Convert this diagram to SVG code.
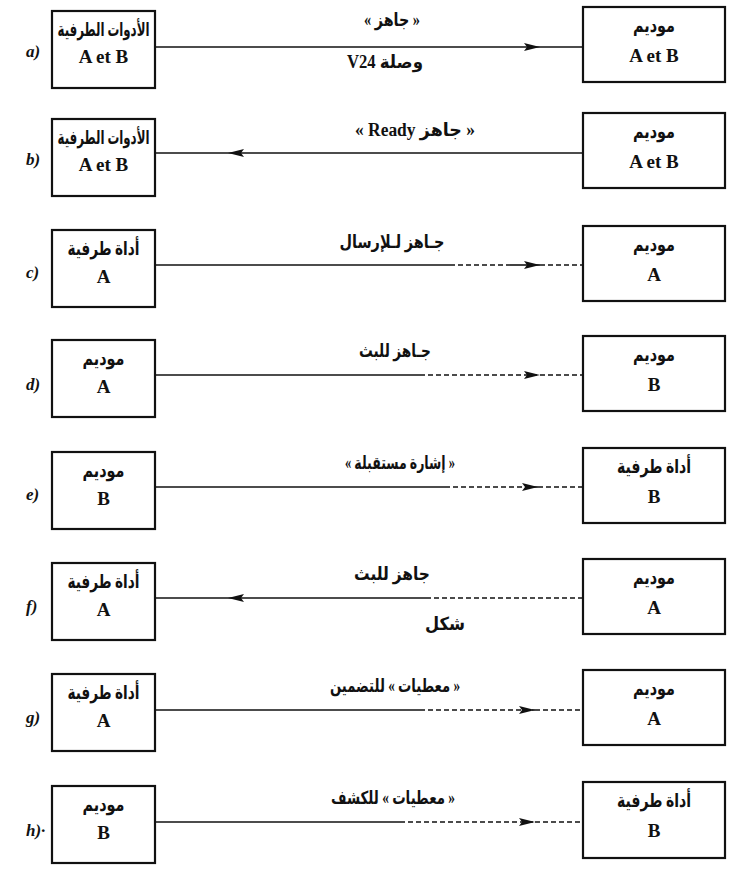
<svg xmlns="http://www.w3.org/2000/svg" width="729" height="888" viewBox="0 0 729 888">
<style>
.box{fill:#fff;stroke:#111;stroke-width:2.2}
.t{font-family:"Liberation Serif","DejaVu Sans",serif;font-weight:bold;fill:#111;text-anchor:middle}
.ar{font-size:19px;direction:rtl}
.la{font-size:19px}
.lb{font-size:18px}
.rl{font-family:"Liberation Serif",serif;font-style:italic;font-weight:bold;font-size:17px;fill:#111}
.ln{stroke:#111;stroke-width:1.6;fill:none}
.d{stroke-dasharray:5 3}
</style>
<defs>
<marker id="ah" viewBox="0 0 16 8" refX="16" refY="4" markerWidth="16" markerHeight="8" markerUnits="userSpaceOnUse" orient="auto">
<path d="M0,0 L16,4 L0,8 L3,4 z" fill="#111"/>
</marker>
</defs>

<g id="row-labels">
<text class="rl" x="26" y="57">a)</text>
<text class="rl" x="26" y="165">b)</text>
<text class="rl" x="26" y="278">c)</text>
<text class="rl" x="26" y="390">d)</text>
<text class="rl" x="26" y="500">e)</text>
<text class="rl" x="26" y="612">f)</text>
<text class="rl" x="26" y="723">g)</text>
<text class="rl" x="26" y="836">h)·</text>
</g>

<g id="connectors">
<!-- a -->
<path class="ln" d="M155,47 H540" marker-end="url(#ah)"/>
<path class="ln" d="M540,47 H583"/>
<!-- b -->
<path class="ln" d="M583,153 H228" marker-end="url(#ah)"/>
<path class="ln" d="M228,153 H155"/>
<!-- c -->
<path class="ln" d="M155,265 H450"/>
<path class="ln d" d="M450,265 H510"/>
<path class="ln" d="M510,265 H540" marker-end="url(#ah)"/>
<path class="ln d" d="M540,265 H583"/>
<!-- d -->
<path class="ln" d="M155,375 H420"/>
<path class="ln d" d="M420,375 H540" marker-end="url(#ah)"/>
<path class="ln d" d="M540,375 H583"/>
<!-- e -->
<path class="ln" d="M155,487 H445"/>
<path class="ln d" d="M445,487 H538" marker-end="url(#ah)"/>
<path class="ln d" d="M538,487 H583"/>
<!-- f -->
<path class="ln d" d="M583,598 H430"/>
<path class="ln" d="M430,598 H228" marker-end="url(#ah)"/>
<path class="ln" d="M228,598 H155"/>
<!-- g -->
<path class="ln" d="M155,710 H420"/>
<path class="ln d" d="M420,710 H535" marker-end="url(#ah)"/>
<path class="ln d" d="M535,710 H583"/>
<!-- h -->
<path class="ln" d="M155,822 H400"/>
<path class="ln d" d="M400,822 H535" marker-end="url(#ah)"/>
<path class="ln d" d="M535,822 H583"/>
</g>

<g id="connector-labels">
<text class="t lb ar" x="392" y="26" textLength="56" lengthAdjust="spacingAndGlyphs">« جاهز »</text>
<text class="t lb ar" x="385" y="68" textLength="76" lengthAdjust="spacingAndGlyphs">وصلة  V24</text>
<text class="t lb ar" x="415" y="136" textLength="120" lengthAdjust="spacingAndGlyphs">« جاهز Ready »</text>
<text class="t lb ar" x="392" y="248" textLength="105" lengthAdjust="spacingAndGlyphs">جـاهز لـلإرسال</text>
<text class="t lb ar" x="395" y="357" textLength="72" lengthAdjust="spacingAndGlyphs">جـاهز للبث</text>
<text class="t lb ar" x="400" y="469" textLength="110" lengthAdjust="spacingAndGlyphs">« إشارة مستقبلة »</text>
<text class="t lb ar" x="392" y="580" textLength="76" lengthAdjust="spacingAndGlyphs">جاهز للبث</text>
<text class="t lb ar" x="445" y="630" textLength="40" lengthAdjust="spacingAndGlyphs">شكل</text>
<text class="t lb ar" x="395" y="692" textLength="130" lengthAdjust="spacingAndGlyphs">« معطيات » للتضمين</text>
<text class="t lb ar" x="393" y="804" textLength="124" lengthAdjust="spacingAndGlyphs">« معطيات » للكشف</text>
</g>

<g id="a-left"><rect class="box" x="52" y="11" width="103" height="77"/>
<text class="t ar" x="103.5" y="36" textLength="92" lengthAdjust="spacingAndGlyphs">الأدوات الطرفية</text><text class="t la" x="103.5" y="63">A et B</text></g>
<g id="a-right"><rect class="box" x="583" y="7" width="142" height="75"/>
<text class="t ar" x="654" y="32" textLength="42" lengthAdjust="spacingAndGlyphs">موديم</text><text class="t la" x="654" y="62">A et B</text></g>

<g id="b-left"><rect class="box" x="52" y="119" width="103" height="77"/>
<text class="t ar" x="103.5" y="144" textLength="92" lengthAdjust="spacingAndGlyphs">الأدوات الطرفية</text><text class="t la" x="103.5" y="171">A et B</text></g>
<g id="b-right"><rect class="box" x="583" y="113" width="142" height="75"/>
<text class="t ar" x="654" y="138" textLength="42" lengthAdjust="spacingAndGlyphs">موديم</text><text class="t la" x="654" y="168">A et B</text></g>

<g id="c-left"><rect class="box" x="52" y="230" width="103" height="77"/>
<text class="t ar" x="103.5" y="255" textLength="72" lengthAdjust="spacingAndGlyphs">أداة طرفية</text><text class="t la" x="103.5" y="283">A</text></g>
<g id="c-right"><rect class="box" x="583" y="226" width="142" height="75"/>
<text class="t ar" x="654" y="251" textLength="42" lengthAdjust="spacingAndGlyphs">موديم</text><text class="t la" x="654" y="281">A</text></g>

<g id="d-left"><rect class="box" x="52" y="340" width="103" height="77"/>
<text class="t ar" x="103.5" y="365" textLength="42" lengthAdjust="spacingAndGlyphs">موديم</text><text class="t la" x="103.5" y="393">A</text></g>
<g id="d-right"><rect class="box" x="583" y="336" width="142" height="75"/>
<text class="t ar" x="654" y="361" textLength="42" lengthAdjust="spacingAndGlyphs">موديم</text><text class="t la" x="654" y="391">B</text></g>

<g id="e-left"><rect class="box" x="52" y="452" width="103" height="77"/>
<text class="t ar" x="103.5" y="477" textLength="42" lengthAdjust="spacingAndGlyphs">موديم</text><text class="t la" x="103.5" y="505">B</text></g>
<g id="e-right"><rect class="box" x="583" y="448" width="142" height="75"/>
<text class="t ar" x="654" y="473" textLength="74" lengthAdjust="spacingAndGlyphs">أداة طرفية</text><text class="t la" x="654" y="503">B</text></g>

<g id="f-left"><rect class="box" x="52" y="563" width="103" height="77"/>
<text class="t ar" x="103.5" y="588" textLength="72" lengthAdjust="spacingAndGlyphs">أداة طرفية</text><text class="t la" x="103.5" y="616">A</text></g>
<g id="f-right"><rect class="box" x="583" y="559" width="142" height="75"/>
<text class="t ar" x="654" y="584" textLength="42" lengthAdjust="spacingAndGlyphs">موديم</text><text class="t la" x="654" y="614">A</text></g>

<g id="g-left"><rect class="box" x="52" y="674" width="103" height="77"/>
<text class="t ar" x="103.5" y="699" textLength="72" lengthAdjust="spacingAndGlyphs">أداة طرفية</text><text class="t la" x="103.5" y="727">A</text></g>
<g id="g-right"><rect class="box" x="583" y="670" width="142" height="75"/>
<text class="t ar" x="654" y="695" textLength="42" lengthAdjust="spacingAndGlyphs">موديم</text><text class="t la" x="654" y="725">A</text></g>

<g id="h-left"><rect class="box" x="52" y="786" width="103" height="77"/>
<text class="t ar" x="103.5" y="811" textLength="42" lengthAdjust="spacingAndGlyphs">موديم</text><text class="t la" x="103.5" y="839">B</text></g>
<g id="h-right"><rect class="box" x="583" y="782" width="142" height="76"/>
<text class="t ar" x="654" y="807" textLength="74" lengthAdjust="spacingAndGlyphs">أداة طرفية</text><text class="t la" x="654" y="837">B</text></g>
</svg>
